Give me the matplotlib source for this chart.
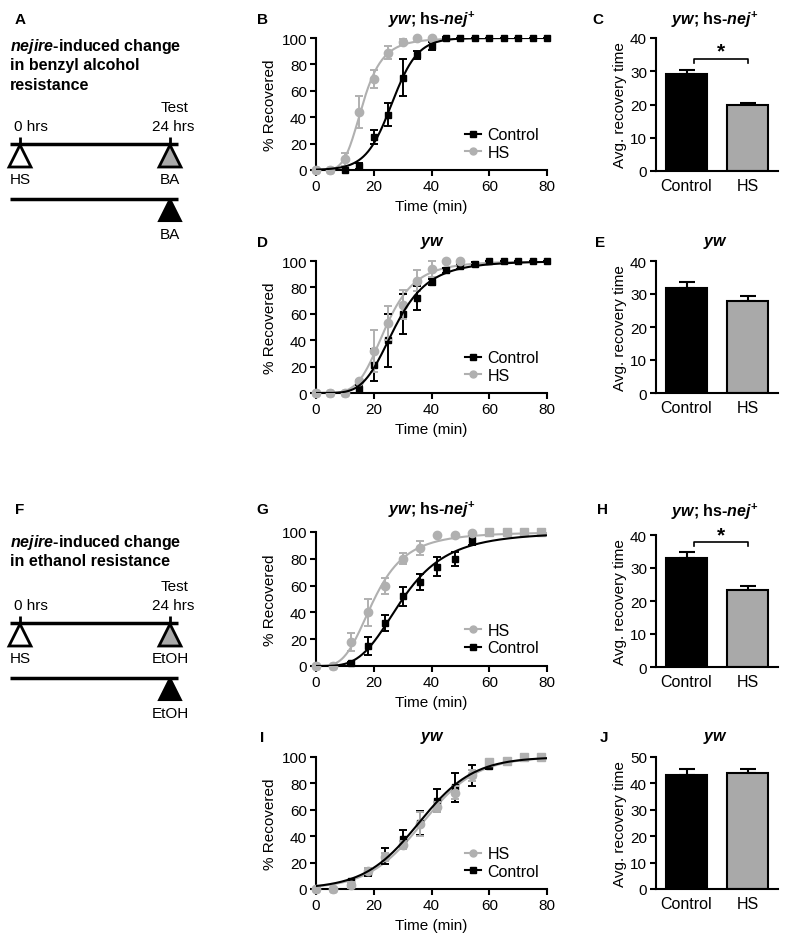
"""
Recovery curves (benzyl alcohol / ethanol) for nejire heat-shock flies.
"""
import numpy as np
import matplotlib
matplotlib.use('Agg')
import matplotlib.pyplot as plt
from matplotlib.patches import Polygon
from matplotlib.lines import Line2D

plt.rcParams['font.family'] = ['Liberation Sans', 'DejaVu Sans']
plt.rcParams['mathtext.fontset'] = 'custom'
plt.rcParams['mathtext.rm'] = 'Liberation Sans'
plt.rcParams['mathtext.it'] = 'Liberation Sans:italic'
plt.rcParams['mathtext.bf'] = 'Liberation Sans:bold'
plt.rcParams['mathtext.bfit'] = 'Liberation Sans:italic:bold'

# ── datos ──────────────────────────────────────────────────────────
# B: benzyl alcohol, yw; hs-nej+
t_ba = [0, 5, 10, 15, 20, 25, 30, 35, 40, 45, 50, 55, 60, 65, 70, 75, 80]
ba_nej_ctrl = [0, 0, 0, 3, 25, 42, 70, 87, 94, 100, 100, 100, 100, 100, 100, 100, 100]
ba_nej_ctrl_err = [0, 0, 0, 2, 5, 9, 14, 3, 3, 1, 0, 0, 0, 0, 0, 0, 0]
t_ba_nej_hs = [0, 5, 10, 15, 20, 25, 30, 35, 40]
ba_nej_hs = [0, 0, 8, 44, 69, 89, 97, 100, 100]
ba_nej_hs_err = [0, 0, 5, 12, 7, 5, 2, 0, 0]

# D: benzyl alcohol, yw
ba_yw_ctrl = [0, 0, 0, 3, 21, 40, 60, 72, 84, 93, 96, 98, 100, 100, 100, 100, 100]
ba_yw_ctrl_err = [0, 0, 0, 3, 12, 20, 15, 9, 2, 2, 2, 1, 0, 0, 0, 0, 0]
t_ba_yw_hs = [0, 5, 10, 15, 20, 25, 30, 35, 40, 45, 50]
ba_yw_hs = [0, 0, 0, 9, 32, 53, 67, 85, 94, 100, 100]
ba_yw_hs_err = [0, 0, 0, 1, 16, 13, 11, 8, 6, 0, 0]

# G: ethanol, yw; hs-nej+
t_et = [0, 6, 12, 18, 24, 30, 36, 42, 48, 54, 60, 66, 72, 78]
et_nej_ctrl = [0, 0, 2, 15, 32, 52, 63, 74, 80, 94, 100, 100, 100, 100]
et_nej_ctrl_err = [0, 0, 1, 7, 6, 7, 6, 7, 5, 4, 0, 0, 0, 0]
t_et_hs = [0, 6, 12, 18, 24, 30, 36, 42, 48, 54]
et_nej_hs = [0, 0, 18, 40, 60, 80, 88, 98, 98, 99]
et_nej_hs_err = [0, 0, 7, 10, 6, 4, 5, 0, 0, 0]
t_et_tail = [60, 66, 72, 78]
et_nej_hs_tail = [100, 100, 100, 100]

# I: ethanol, yw
et_yw_ctrl = [0, 0, 6, 13, 25, 38, 50, 67, 77, 86, 93, 97, 100, 100]
et_yw_ctrl_err = [0, 0, 1, 3, 6, 7, 9, 9, 11, 8, 2, 1, 0, 0]
et_yw_hs = [0, 0, 3, 14, 24, 33, 49, 62, 73, 86]
et_yw_hs_err = [0, 0, 2, 2, 3, 3, 9, 4, 5, 4]
et_yw_hs_tail = [96, 97, 100, 100]

# C, E, H, J: tiempo medio de recuperacion
bar_labels = ['Control', 'HS']
c_means = [29.1, 19.7]
c_err = [1.3, 0.9]
e_means = [31.8, 28.0]
e_err = [1.8, 1.4]
h_means = [33.1, 23.2]
h_err = [1.6, 1.3]
j_means = [43.3, 43.8]
j_err = [2.0, 1.8]

BLACK = '#000000'
GRAY = '#b0b0b0'
BARGRAY = '#a9a9a9'
W, H = 790, 945
FS = 11

TITLE_NEJ = r'$\mathbfit{yw}$; hs-$\mathbfit{nej}^{\mathbf{+}}$'
TITLE_YW = r'$\mathbfit{yw}$'


def px_axes(fig, left, top, right, bottom):
    return fig.add_axes([left / W, 1 - bottom / H, (right - left) / W, (bottom - top) / H])


def style(ax):
    for s in ['top', 'right']:
        ax.spines[s].set_visible(False)
    for s in ['left', 'bottom']:
        ax.spines[s].set_linewidth(1.5)
    ax.tick_params(width=1.5, length=4.5, labelsize=FS, pad=2, direction='out')


def hill(t, a, b):
    t = np.asarray(t, float)
    return 100 * t ** b / (a ** b + t ** b)


def logistic(t, a, b):
    t = np.asarray(t, float)
    return 100 / (1 + np.exp((a - t) / b))


def fit_sigmoid(t, y):
    """Ajuste sigmoide (Hill o logistica, la de menor SSE) por rejilla."""
    t = np.asarray(t, float)[None, None, :]
    y = np.asarray(y, float)[None, None, :]
    t50s = np.arange(5, 60, 0.2)
    best = None
    for model, bs in ((hill, np.arange(1, 10, 0.05)), (logistic, np.arange(1, 20, 0.05))):
        A, B = np.meshgrid(t50s, bs, indexing='ij')
        with np.errstate(all='ignore'):
            pred = model(t, A[..., None], B[..., None])
        sse = ((pred - y) ** 2).sum(axis=2)
        i, j = np.unravel_index(np.argmin(sse), sse.shape)
        if best is None or sse[i, j] < best[0]:
            best = (sse[i, j], model, t50s[i], bs[j])
    return best[1:]


def recovery_panel(ax, tc, yc, ec, th, yh, eh, order, tail=None):
    style(ax)
    kw = dict(capsize=3, elinewidth=1.4, capthick=1.4, ls='none', clip_on=False)
    ax.errorbar(tc, yc, yerr=ec, color=BLACK, marker='s', ms=5, zorder=3, **kw)
    ax.errorbar(th, yh, yerr=eh, color=GRAY, marker='o', ms=6, zorder=4, **kw)
    th_fit, yh_fit = list(th), list(yh)
    if tail is not None:
        ax.plot(tail[0], tail[1], ls='none', marker='s', ms=5.5, color=GRAY,
                zorder=5, clip_on=False)
        th_fit += list(tail[0])
        yh_fit += list(tail[1])
    xs = np.linspace(0, 80, 400)
    m_h, a_h, b_h = fit_sigmoid(th_fit, yh_fit)
    m_c, a_c, b_c = fit_sigmoid(tc, yc)
    ax.plot(xs, m_h(xs, a_h, b_h), color=GRAY, lw=1.5, zorder=2)
    ax.plot(xs, m_c(xs, a_c, b_c), color=BLACK, lw=1.5, zorder=6)
    ax.set_xlim(0, 80)
    ax.set_ylim(0, 100)
    ax.set_xticks([0, 20, 40, 60, 80])
    ax.set_yticks([0, 20, 40, 60, 80, 100])
    ax.set_xlabel('Time (min)', fontsize=FS, labelpad=4)
    ax.set_ylabel('% Recovered', fontsize=FS, labelpad=3)
    handles = {
        'Control': Line2D([], [], color=BLACK, marker='s', ms=4, lw=1.5),
        'HS': Line2D([], [], color=GRAY, marker='o', ms=5, lw=1.5),
    }
    ax.legend([handles[k] for k in order], order, loc='center left',
              bbox_to_anchor=(0.61, 0.2), frameon=False, fontsize=FS + 0.5,
              handlelength=1.0, handletextpad=0.4, borderpad=0, labelspacing=0.15)


def bar_panel(ax, means, errs, ymax, step, sig=None):
    style(ax)
    x = np.arange(len(means))
    ax.bar(x, means, width=0.67, color=[BLACK, BARGRAY], edgecolor=BLACK,
           linewidth=1.5, zorder=2)
    ax.errorbar(x, means, yerr=[np.zeros(len(errs)), errs], ls='none', color=BLACK,
                capsize=6, elinewidth=1.5, capthick=1.5, zorder=1)
    ax.set_xlim(-0.5, 1.5)
    ax.set_ylim(0, ymax)
    ax.set_yticks(np.arange(0, ymax + 1, step))
    ax.set_xticks(x)
    ax.set_xticklabels(bar_labels, fontsize=FS + 0.5)
    ax.tick_params(axis='x', length=0, pad=5)
    ax.set_ylabel('Avg. recovery time', fontsize=FS, labelpad=2)
    if sig is not None:
        yb = sig
        ax.plot([0.12, 0.12, 1.0, 1.0], [yb - 1.2, yb, yb, yb - 1.2], color=BLACK,
                lw=1.2, clip_on=False)
        ax.text(0.56, yb + 2.2, '*', ha='center', va='center', fontsize=15,
                fontweight='bold', clip_on=False)


def protocol(ov, y_title, title_lines, line_y, agent):
    for k, s in enumerate(title_lines):
        ov.text(10, y_title + 19.5 * k, s, fontsize=FS + 0.5, fontweight='bold',
                ha='left', va='center')
    ov.text(175, line_y - 37, 'Test', fontsize=FS, ha='center', va='center')
    ov.text(14, line_y - 18, '0 hrs', fontsize=FS, ha='left', va='center')
    ov.text(173, line_y - 18, '24 hrs', fontsize=FS, ha='center', va='center')
    ov.plot([10, 178], [line_y, line_y], color=BLACK, lw=2.5, solid_capstyle='butt')
    for xt in (20, 170):
        ov.plot([xt, xt], [line_y - 7, line_y], color=BLACK, lw=2, solid_capstyle='butt')
    for xt, fc in ((20, 'white'), (170, BARGRAY)):
        ov.add_patch(Polygon([[xt, line_y + 1], [xt - 11, line_y + 23], [xt + 11, line_y + 23]],
                             closed=True, fc=fc, ec=BLACK, lw=2, joinstyle='miter'))
    ov.text(10, line_y + 35, 'HS', fontsize=FS, ha='left', va='center')
    ov.text(170, line_y + 35, agent, fontsize=FS, ha='center', va='center')
    y2 = line_y + 55
    ov.plot([10, 178], [y2, y2], color=BLACK, lw=2.5, solid_capstyle='butt')
    ov.add_patch(Polygon([[170, y2], [159, y2 + 22], [181, y2 + 22]], closed=True,
                         fc=BLACK, ec=BLACK, lw=1.5))
    ov.text(170, y2 + 35, agent, fontsize=FS, ha='center', va='center')


fig = plt.figure(figsize=(W / 100, H / 100), dpi=100)
ov = fig.add_axes([0, 0, 1, 1], zorder=-1)
ov.set_xlim(0, W)
ov.set_ylim(H, 0)
ov.axis('off')

# letras de panel y titulos
for lab, xx, yy in [('A', 20, 20), ('B', 262, 20), ('C', 598, 20),
                    ('D', 262, 243), ('E', 600, 243), ('F', 20, 510),
                    ('G', 262, 510), ('H', 602, 510), ('I', 262, 738), ('J', 604, 738)]:
    ov.text(xx, yy, lab, fontsize=FS, fontweight='bold', ha='center', va='center')
for s, xx, yy in [(TITLE_NEJ, 432, 20), (TITLE_NEJ, 715, 20), (TITLE_YW, 432, 243),
                  (TITLE_YW, 715, 243), (TITLE_NEJ, 432, 510), (TITLE_NEJ, 715, 512),
                  (TITLE_YW, 432, 738), (TITLE_YW, 715, 738)]:
    ov.text(xx, yy, s, fontsize=FS + 0.5, fontweight='bold', ha='center', va='center')

protocol(ov, 46, [r'$\mathbfit{nejire}$-induced change', 'in benzyl alcohol', 'resistance'],
         145, 'BA')
protocol(ov, 542, [r'$\mathbfit{nejire}$-induced change', 'in ethanol resistance'],
         624, 'EtOH')

axB = px_axes(fig, 316, 39, 547, 171)
recovery_panel(axB, t_ba, ba_nej_ctrl, ba_nej_ctrl_err, t_ba_nej_hs, ba_nej_hs,
               ba_nej_hs_err, ['Control', 'HS'])
axD = px_axes(fig, 316, 262, 547, 394)
recovery_panel(axD, t_ba, ba_yw_ctrl, ba_yw_ctrl_err, t_ba_yw_hs, ba_yw_hs,
               ba_yw_hs_err, ['Control', 'HS'])
axG = px_axes(fig, 316, 533, 547, 667)
recovery_panel(axG, t_et, et_nej_ctrl, et_nej_ctrl_err, t_et_hs, et_nej_hs,
               et_nej_hs_err, ['HS', 'Control'], tail=(t_et_tail, et_nej_hs_tail))
axI = px_axes(fig, 316, 758, 547, 890)
recovery_panel(axI, t_et, et_yw_ctrl, et_yw_ctrl_err, t_et_hs, et_yw_hs,
               et_yw_hs_err, ['HS', 'Control'], tail=(t_et_tail, et_yw_hs_tail))

axC = px_axes(fig, 656, 39, 778, 172)
bar_panel(axC, c_means, c_err, 40, 10, sig=33.8)
axE = px_axes(fig, 656, 262, 778, 394)
bar_panel(axE, e_means, e_err, 40, 10)
axH = px_axes(fig, 656, 536, 778, 668)
bar_panel(axH, h_means, h_err, 40, 10, sig=37.8)
axJ = px_axes(fig, 656, 758, 778, 890)
bar_panel(axJ, j_means, j_err, 50, 10)

fig.savefig('out.png', dpi=100)
